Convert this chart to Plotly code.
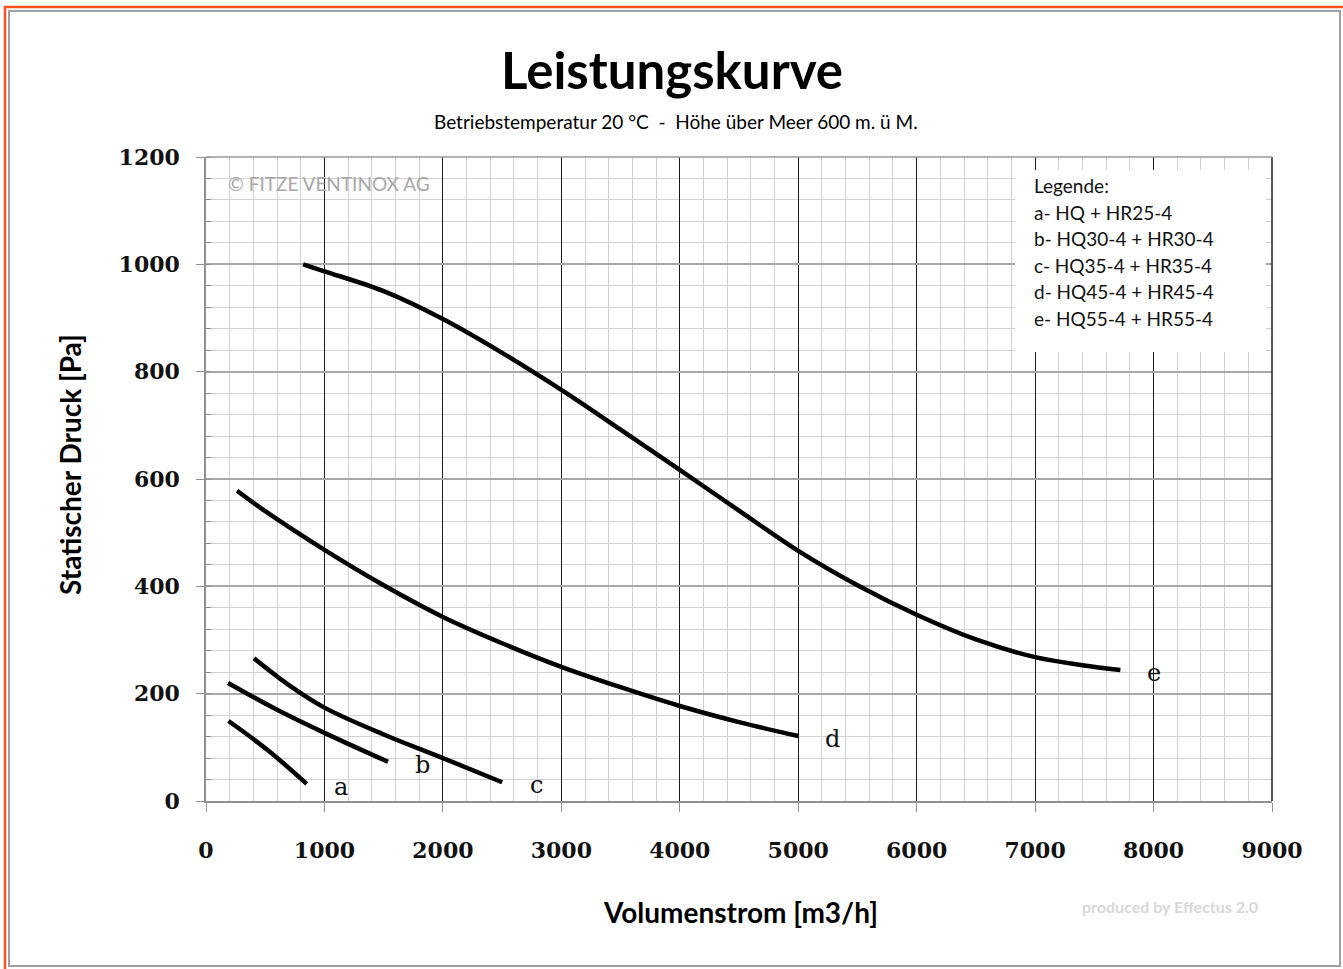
import plotly.graph_objects as go

# ---- data ----
a_x = [190, 520, 850]
a_y = [149, 95, 32]
b_x = [186, 600, 1000, 1537]
b_y = [220, 170, 127, 73]
c_x = [405, 700, 1000, 1500, 2000, 2500]
c_y = [266, 216, 174, 124, 80, 35]
d_x = [262, 500, 1000, 1500, 2000, 2500, 3000, 3500, 4000, 4500, 5000]
d_y = [578, 540, 468, 402, 343, 294, 250, 212, 177, 147, 121]
e_x = [820, 1000, 1500, 2000, 2500, 3000, 3500, 4000, 4500, 5000, 5500, 6000, 6500, 7000, 7400, 7720]
e_y = [1000, 987, 950, 898, 835, 766, 692, 617, 541, 466, 402, 347, 301, 268, 253, 244]

series = [("a", a_x, a_y), ("b", b_x, b_y), ("c", c_x, c_y), ("d", d_x, d_y), ("e", e_x, e_y)]

legend_lines = ["Legende:", "a- HQ + HR25-4", "b- HQ30-4 + HR30-4", "c- HQ35-4 + HR35-4",
                "d- HQ45-4 + HR45-4", "e- HQ55-4 + HR55-4"]

x_ticks = [0, 1000, 2000, 3000, 4000, 5000, 6000, 7000, 8000, 9000]
y_ticks = [0, 200, 400, 600, 800, 1000, 1200]

# ---- layout geometry (pixels) ----
W, H = 1343, 969
L, R, T, B = 206, 1272, 157, 801


def px(xp):
    return (xp - L) / (R - L)


def py(yp):
    return (B - yp) / (B - T)


fig = go.Figure()
annotations = []
for name, xs, ys in series:
    fig.add_trace(go.Scatter(x=xs, y=ys, mode="lines",
                             line=dict(color="black", width=4.5, shape="spline", smoothing=1.0),
                             showlegend=False, hoverinfo="skip"))
    annotations.append(dict(x=xs[-1], y=ys[-1], xref="x", yref="y", text=name, showarrow=False,
                            xanchor="center", yanchor="middle",
                            xshift=34, yshift=-3, font=dict(family="DejaVu Serif", size=24, color="#111")))

SANS = "Lato"


def txt(x, y, text, size, color="black", xanchor="center", angle=0):
    return dict(x=px(x), y=py(y), xref="paper", yref="paper", text=text, showarrow=False,
                xanchor=xanchor, yanchor="middle", textangle=angle,
                font=dict(family=SANS, size=size, color=color))


annotations += [
    txt(672, 70, "<b>Leistungskurve</b>", 51),
    txt(676, 121, "Betriebstemperatur 20 °C  -  Höhe über Meer 600 m. ü M.", 19),
    txt(740, 912, "<b>Volumenstrom [m3/h]</b>", 28),
    txt(70, 465, "<b>Statischer Druck [Pa]</b>", 28, angle=-90),
    txt(226, 183, "© FITZE VENTINOX AG", 19, color="#a8a8a8", xanchor="left"),
    txt(1080, 906, "<b>produced by Effectus 2.0</b>", 16, color="#d8d8d8", xanchor="left"),
]
for i, line in enumerate(legend_lines):
    annotations.append(txt(1032, 186 + i * 26.4, line, 19, color="#111", xanchor="left"))

shapes = [
    # legend background box
    dict(type="rect", xref="paper", yref="paper", x0=px(1015), x1=px(1266), y0=py(352), y1=py(170),
         fillcolor="white", line=dict(width=0), layer="above"),
    # right and top plot border
    dict(type="line", xref="paper", yref="paper", x0=1, x1=1, y0=0, y1=1, line=dict(color="#222", width=1.5)),
    dict(type="line", xref="paper", yref="paper", x0=0, x1=1, y0=1, y1=1, line=dict(color="#999", width=1.5)),
    # page frames
    dict(type="rect", xref="paper", yref="paper", x0=px(5), x1=px(1360), y0=py(990), y1=py(7),
         line=dict(color="#ff5020", width=2.5), layer="above"),
    dict(type="rect", xref="paper", yref="paper", x0=px(9), x1=px(1340), y0=py(966), y1=py(11),
         line=dict(color="#a0a0a0", width=2), layer="above"),
]

tick_font = dict(family="DejaVu Serif", size=22, color="#111", weight="bold")

fig.update_layout(
    width=W, height=H,
    margin=dict(l=L, r=W - R, t=T, b=H - B),
    paper_bgcolor="white", plot_bgcolor="white",
    annotations=annotations, shapes=shapes,
    xaxis=dict(range=[0, 9000], tickvals=x_ticks, showgrid=True, gridcolor="#1a1a1a", gridwidth=1.3,
               zeroline=False, showline=True, linecolor="#909090", linewidth=1.5,
               ticks="outside", ticklen=9, tickcolor="#909090", ticklabelstandoff=20,
               tickfont=tick_font,
               minor=dict(dtick=200, showgrid=True, gridcolor="#d2d2d2", gridwidth=1.3),
               fixedrange=True),
    yaxis=dict(range=[0, 1200], tickvals=y_ticks, showgrid=True, gridcolor="#a8a8a8", gridwidth=1.5,
               zeroline=False, showline=True, linecolor="#909090", linewidth=1.5,
               ticks="outside", ticklen=8, tickcolor="#909090", ticklabelstandoff=12,
               tickfont=tick_font,
               minor=dict(dtick=40, showgrid=True, gridcolor="#d2d2d2", gridwidth=1.3,
                          ticks="inside", ticklen=5, tickcolor="#909090"),
               fixedrange=True),
)

fig.write_html("out.html", config={"displayModeBar": False},
               post_script="document.body.style.margin='0';document.body.style.overflow='hidden';")
